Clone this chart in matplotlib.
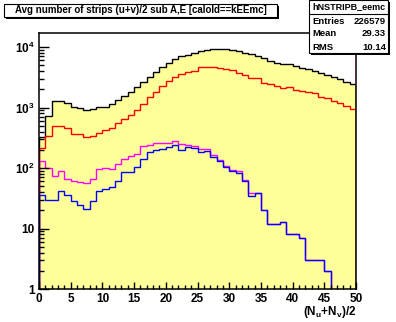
import numpy as np
import matplotlib
matplotlib.use('Agg')
import matplotlib.pyplot as plt
from matplotlib.patches import Rectangle
from matplotlib.lines import Line2D
from matplotlib.ticker import FixedLocator, NullFormatter

# ---- data (bin contents, 50 bins of width 1 from 0 to 50) ----
bin_edges = np.arange(0, 51)
total = [320, 730, 1265, 1265, 1172, 1032, 990, 905, 944, 1006,
         1032, 1140, 1310, 1550, 1828, 2210, 2600, 3250, 3900, 4700,
         5500, 6300, 7000, 7450, 8060, 8700, 9040, 9150, 9150, 9150,
         8920, 8590, 8060, 7660, 7190, 6500, 5945, 5510, 5165, 5165,
         4850, 4550, 4270, 4060, 3765, 3490, 3155, 2924, 2675, 2445]
red = [212, 342, 500, 500, 453, 360, 360, 330, 342, 383,
       425, 453, 547, 637, 751, 909, 1143, 1473, 1828, 2250,
       2700, 3150, 3600, 3910, 4060, 4730, 4730, 4615, 4550, 4330,
       4170, 3765, 3445, 3035, 3035, 2572, 2415, 2265, 2073, 2155,
       1945, 1874, 1828, 1715, 1473, 1420, 1280, 1172, 1058, 933]
magenta = [131, 99, 74, 89, 65, 62, 59, 56, 65, 95,
           99, 95, 116, 139, 160, 168, 228, 242, 256, 256,
           256, 279, 246, 237, 231, 203, 203, 164, 136, 109,
           93, 88, 64, 39, 38, 20, 12, 12, 13, 8,
           8, 7, 3, 3, 3, 2, 0, 0, 0, 0]
blue = [36, 30, 30, 41, 36, 28, 24, 21, 28, 42,
        45, 48, 62, 85, 85, 105, 139, 185, 199, 206,
        220, 240, 199, 220, 214, 181, 191, 150, 131, 103,
        89, 82, 62, 34, 38, 20, 12, 12, 13, 8,
        8, 7, 3, 3, 3, 2, 0, 0, 0, 0]
x_ticks = [0, 5, 10, 15, 20, 25, 30, 35, 40, 45, 50]
y_ticks = [1, 10, 100, 1000, 10000]
y_ticklabels = ['1', '10', r'$10^{2}$', r'$10^{3}$', r'$10^{4}$']
title = 'Avg number of strips (u+v)/2 sub A,E [caloId==kEEmc]'
stats_name = 'hNSTRIPB_eemc'
stats_rows = [('Entries', '226579'), ('Mean', '29.33'), ('RMS', '10.14')]

plt.rcParams['font.family'] = ['Liberation Sans', 'DejaVu Sans']
plt.rcParams['font.weight'] = 'bold'
plt.rcParams['mathtext.fontset'] = 'custom'
plt.rcParams['mathtext.rm'] = 'Liberation Sans:bold'
plt.rcParams['mathtext.it'] = 'Liberation Sans:bold'
plt.rcParams['mathtext.bf'] = 'Liberation Sans:bold'

W, H = 396, 322
fig = plt.figure(figsize=(W / 100, H / 100), dpi=100)
fig.patch.set_facecolor('white')


def fx(x):
    return x / W


def fy(y):
    return 1 - y / H


ax = fig.add_axes([fx(39), fy(289), (356 - 39) / W, (289 - 33) / H])
ax.set_facecolor('white')

lw = 1.0
ax.stairs(total, bin_edges, baseline=0.01, fill=True, color='#ffff99', lw=0)
ax.stairs(total, bin_edges, baseline=0.01, color='black', lw=lw)
ax.stairs(red, bin_edges, baseline=0.01, color='#ff0000', lw=lw)
ax.stairs(magenta, bin_edges, baseline=0.01, color='#ff00ff', lw=lw)
ax.stairs(blue, bin_edges, baseline=0.01, color='#0000ff', lw=lw)

ax.set_yscale('log', nonpositive='clip')
ymax = 10 ** ((289 - 33) / 60.5)
ax.set_xlim(0, 50)
ax.set_ylim(1, ymax)
ax.vlines(bin_edges[-1], total[-1], ymax, color='#ff0000', lw=lw, zorder=5)

for s in ax.spines.values():
    s.set_linewidth(1.1)
    s.set_color('black')

ax.xaxis.set_major_locator(FixedLocator(x_ticks))
ax.xaxis.set_minor_locator(FixedLocator(np.arange(0, 51)))
ax.set_xticklabels([str(v) for v in x_ticks])
ax.yaxis.set_major_locator(FixedLocator(y_ticks))
minors = [m * 10 ** d for d in range(0, 5) for m in range(2, 10)]
ax.yaxis.set_minor_locator(FixedLocator(minors))
ax.yaxis.set_minor_formatter(NullFormatter())
ax.set_yticklabels(y_ticklabels)

ax.tick_params(axis='x', which='major', direction='in', length=5, width=1,
               labelsize=8.5, pad=3, top=False)
ax.tick_params(axis='x', which='minor', direction='in', length=2.8, width=1,
               top=False)
ax.tick_params(axis='y', which='major', direction='in', length=7, width=1,
               labelsize=8.5, pad=3, right=False)
ax.tick_params(axis='y', which='minor', direction='in', length=3.6, width=1,
               right=False)
for lab in ax.get_xticklabels() + ax.get_yticklabels():
    lab.set_fontweight('bold')

fig.text(fx(356), fy(312), r'(N$_\mathregular{u}$+N$_\mathregular{v}$)/2',
         ha='right', va='center', fontsize=8.5, fontweight='bold')

# title box
fig.patches.append(Rectangle((fx(6), fy(19)), (277 - 4) / W, (16 - 3) / H,
                             transform=fig.transFigure, facecolor='black',
                             edgecolor='black', lw=0, zorder=10))
fig.patches.append(Rectangle((fx(4), fy(17)), (277 - 4) / W, (16 - 3) / H,
                             transform=fig.transFigure, facecolor='white',
                             edgecolor='black', lw=0.8, zorder=11))
fig.text(fx(140.5), fy(10), title, ha='center', va='center', fontsize=7.0,
         fontweight='bold', zorder=12)

# stats box
fig.patches.append(Rectangle((fx(311), fy(55)), (388 - 309) / W, (53 - 0.5) / H,
                             transform=fig.transFigure, facecolor='black',
                             edgecolor='black', lw=0, zorder=10))
fig.patches.append(Rectangle((fx(309), fy(53)), (388 - 309) / W, (53 - 0.5) / H,
                             transform=fig.transFigure, facecolor='white',
                             edgecolor='black', lw=0.8, zorder=11))
fig.lines.append(Line2D([fx(309), fx(388)], [fy(14), fy(14)],
                        transform=fig.transFigure, color='black', lw=0.8,
                        zorder=12))
fig.text(fx(348.5), fy(7), stats_name, ha='center', va='center', fontsize=6.5,
         fontweight='bold', zorder=12)
row_y = [21, 34, 47.5]
for (k, v), yy in zip(stats_rows, row_y):
    fig.text(fx(312), fy(yy), k, ha='left', va='center', fontsize=6.8,
             fontweight='bold', zorder=12)
    fig.text(fx(386), fy(yy), v, ha='right', va='center', fontsize=6.8,
             fontweight='bold', zorder=12)

fig.savefig('out.png', dpi=100, facecolor='white')
